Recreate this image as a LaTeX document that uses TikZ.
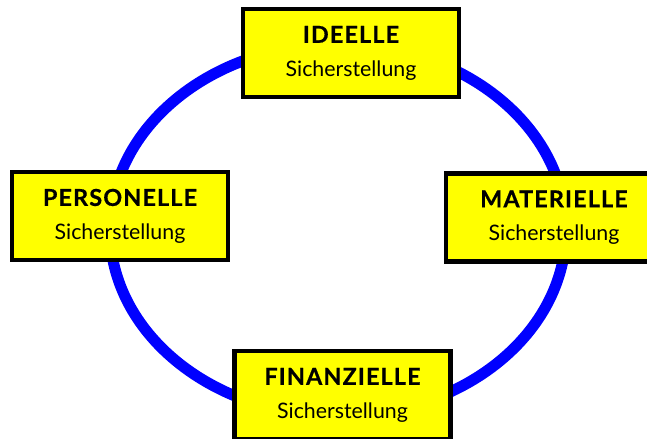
\documentclass[tikz,border=0pt]{standalone}
\usepackage{fontspec}
\setmainfont{Lato}
\definecolor{boxyellow}{RGB}{255,255,0}
\definecolor{ringblue}{RGB}{0,0,255}
\newcommand{\headtxt}[1]{{\fontsize{17.5}{25}\selectfont\bfseries\addfontfeatures{LetterSpace=5,FakeBold=0.6}#1}}
\begin{document}
\begin{tikzpicture}[x=0.75pt,y=-0.75pt,
  box/.style={draw=black,fill=boxyellow,line width=3.4pt,inner sep=0pt,
    minimum width=162pt,minimum height=66pt,align=center,
    font=\fontsize{16}{25}\selectfont},
  ring/.style={draw=ringblue,line width=8.3pt}]
\useasboundingbox (0,0) rectangle (647,439);
\clip (0,0) rectangle (647,439);
\coordinate (c) at (338,230);
\draw[ring] (c) ellipse [x radius=171pt, y radius=139.5pt];
\node[box] (ideelle) at (351,53) {\headtxt{IDEELLE}\\Sicherstellung};
\node[box] (personelle) at (120,216) {\headtxt{PERSONELLE}\\Sicherstellung};
\node[box] (materielle) at (554,217.5) {\headtxt{MATERIELLE}\\Sicherstellung};
\node[box] (finanzielle) at (342.5,395) {\headtxt{FINANZIELLE}\\Sicherstellung};
\end{tikzpicture}
\end{document}
